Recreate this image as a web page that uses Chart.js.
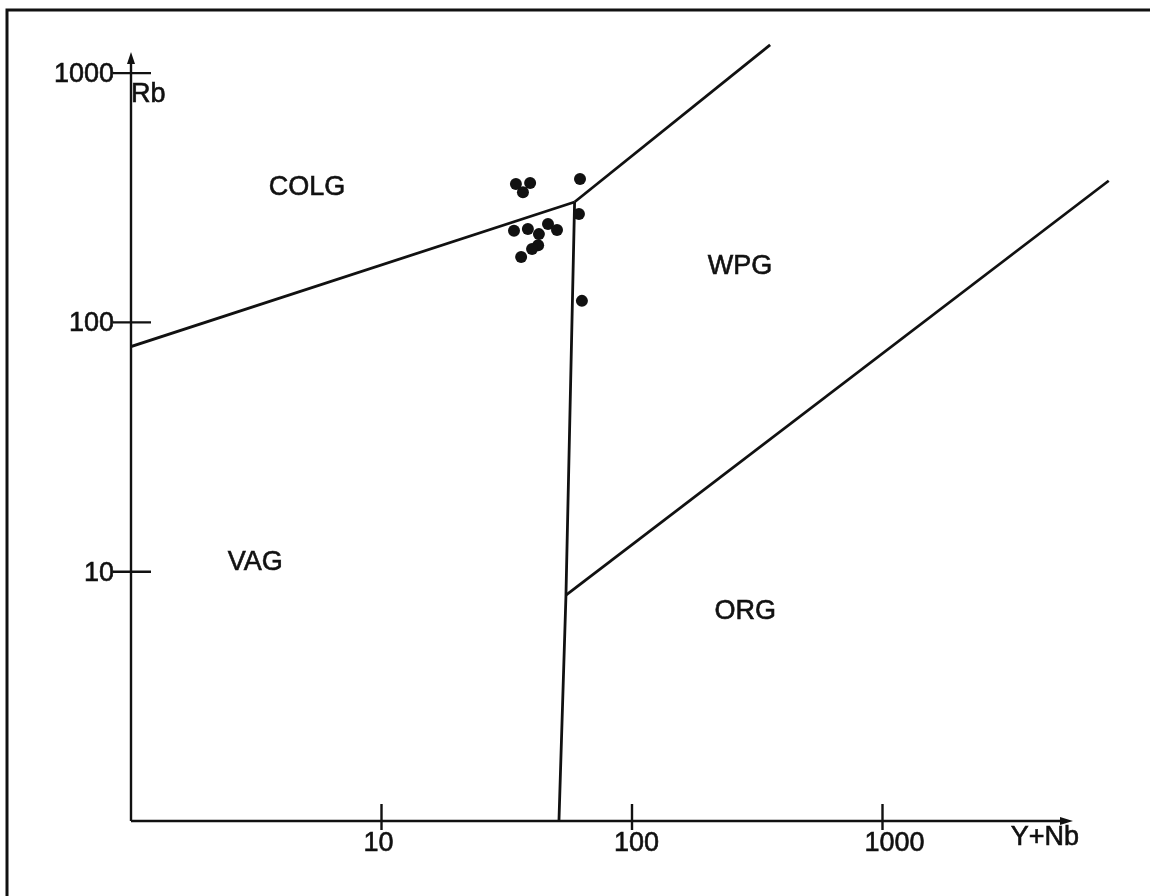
<!DOCTYPE html>
<html>
<head>
<meta charset="utf-8">
<script src="https://cdn.jsdelivr.net/npm/chart.js@4/dist/chart.umd.min.js"></script>
<style>
  html, body { margin: 0; padding: 0; background: #fff; }
  canvas { display: block; }
</style>
</head>
<body>
<canvas id="rbChart" width="1150" height="896"></canvas>
<script>
// samples, Y+Nb (ppm) vs Rb (ppm)
const sampleYNb = [34.4, 39.2, 36.7, 62.0, 61.4, 33.8, 38.4, 46.2, 50.2, 42.5, 42.2, 39.9, 36.1, 63.1];
const sampleRb  = [359, 362, 333, 376, 272, 233, 237, 248, 235, 226, 204, 197, 183, 122];

// field boundaries
const colgVagX = [1, 59];
const colgVagY = [80, 304];
const colgWpgX = [59, 356];
const colgWpgY = [304, 1297];
const vagWpgX  = [59, 54.5, 51.1];
const vagWpgY  = [304, 8.06, 1];
const wpgOrgX  = [54.5, 8000];
const wpgOrgY  = [8.06, 370];

// axis ticks
const xTicks = [10, 100, 1000];
const yTicks = [10, 100, 1000];

// field names
const fieldNames = ['COLG', 'WPG', 'VAG', 'ORG'];
const fieldX = [5.04, 270, 3.13, 283];
const fieldY = [349, 168, 10.9, 6.9];

const ink = '#111';
const font = '27px "Liberation Sans", Arial, sans-serif';

function pairs(xs, ys) {
  return xs.map((x, i) => ({ x: x, y: ys[i] }));
}

function boundary(xs, ys) {
  return {
    data: pairs(xs, ys),
    showLine: true,
    borderColor: ink,
    borderWidth: 2.8,
    pointRadius: 0,
    fill: false
  };
}

// slightly heavier text, like the printed original
function label(ctx, text, x, y) {
  ctx.fillText(text, x, y);
  ctx.strokeText(text, x, y);
}

// axes, ticks, labels and page frame drawn by hand
const diagramAxes = {
  id: 'diagramAxes',
  afterDraw(chart) {
    const ctx = chart.ctx;
    const xs = chart.scales.x;
    const ys = chart.scales.y;
    const ox = xs.getPixelForValue(1);
    const oy = ys.getPixelForValue(1);
    ctx.save();
    ctx.strokeStyle = ink;
    ctx.fillStyle = ink;

    // frame
    ctx.lineWidth = 3;
    ctx.beginPath();
    ctx.moveTo(7, 896);
    ctx.lineTo(7, 10);
    ctx.lineTo(1150, 10);
    ctx.stroke();

    // axis lines
    ctx.lineWidth = 2.4;
    ctx.beginPath();
    ctx.moveTo(ox, oy);
    ctx.lineTo(ox, 58);
    ctx.moveTo(ox, oy);
    ctx.lineTo(1066, oy);
    ctx.stroke();
    // arrow heads
    ctx.beginPath();
    ctx.moveTo(ox, 52);
    ctx.lineTo(ox - 4, 64);
    ctx.lineTo(ox + 4, 64);
    ctx.closePath();
    ctx.fill();
    ctx.beginPath();
    ctx.moveTo(1073, oy);
    ctx.lineTo(1060, oy - 4);
    ctx.lineTo(1060, oy + 4);
    ctx.closePath();
    ctx.fill();

    // y ticks
    yTicks.forEach(v => {
      const py = ys.getPixelForValue(v);
      ctx.beginPath();
      ctx.moveTo(ox - 18, py);
      ctx.lineTo(ox + 20, py);
      ctx.stroke();
    });
    // x ticks
    xTicks.forEach(v => {
      const px = xs.getPixelForValue(v);
      ctx.beginPath();
      ctx.moveTo(px, oy - 17);
      ctx.lineTo(px, oy + 9);
      ctx.stroke();
    });

    ctx.font = font;
    ctx.lineWidth = 0.6;
    ctx.textBaseline = 'alphabetic';
    ctx.textAlign = 'right';
    yTicks.forEach(v => label(ctx, String(v), ox - 17, ys.getPixelForValue(v) + 9));
    ctx.textAlign = 'left';
    xTicks.forEach(v => label(ctx, String(v), xs.getPixelForValue(v) - 18, 851));

    // axis titles
    label(ctx, 'Rb', ox, 102);
    ctx.textAlign = 'right';
    label(ctx, 'Y+Nb', 1079, 845);

    // field names
    ctx.textAlign = 'center';
    ctx.textBaseline = 'middle';
    fieldNames.forEach((name, i) => {
      label(ctx, name, xs.getPixelForValue(fieldX[i]), ys.getPixelForValue(fieldY[i]));
    });
    ctx.restore();
  }
};

const rbChart = new Chart(document.getElementById('rbChart').getContext('2d'), {
  type: 'scatter',
  data: {
    datasets: [
      {
        data: pairs(sampleYNb, sampleRb),
        pointRadius: 6,
        pointBackgroundColor: ink,
        pointBorderColor: ink,
        pointBorderWidth: 0
      },
      boundary(colgVagX, colgVagY),
      boundary(colgWpgX, colgWpgY),
      boundary(vagWpgX, vagWpgY),
      boundary(wpgOrgX, wpgOrgY)
    ]
  },
  options: {
    responsive: false,
    animation: false,
    layout: { padding: { left: 131, right: 17, top: 40, bottom: 75 } },
    plugins: { legend: { display: false }, tooltip: { enabled: false } },
    scales: {
      x: { type: 'logarithmic', min: 1, max: 10000, display: false },
      y: { type: 'logarithmic', min: 1, max: 1357.6, display: false }
    }
  },
  plugins: [diagramAxes]
});
</script>
</body>
</html>
